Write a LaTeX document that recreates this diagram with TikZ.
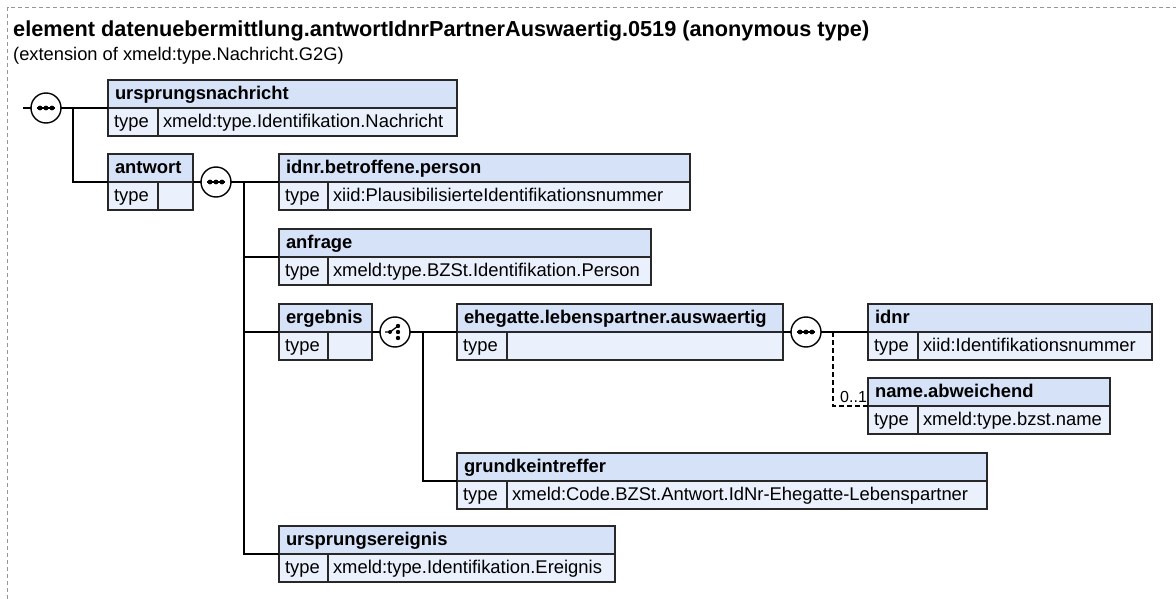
\documentclass[tikz,border=0pt]{standalone}
\usepackage{fontspec}
\setmainfont{Liberation Sans}
\definecolor{hdrblue}{RGB}{214,226,247}
\definecolor{rowblue}{RGB}{234,241,252}
\definecolor{edge}{RGB}{40,40,40}
\definecolor{frame}{RGB}{150,150,150}
\newcommand\xelem[7]{%
 \pgfmathsetmacro\wa{#4-#2-14}%
 \pgfmathsetmacro\wb{#5-#2-12}%
 \pgfmathsetmacro\wc{#4-#5-10}%
 \node[hdr, text width=\wa pt] (#1) at (#2,#3) {#6};
 \node[tyc, text width=\wb pt] (#1-t) at (#1.south west) {type};
 \node[tyv, text width=\wc pt] (#1-v) at (#1-t.north east) {#7};
}
\newcommand\seqmark[1]{%
 \draw[black, line width=1.3pt] ([xshift=-9pt]#1.center) -- ([xshift=9pt]#1.center);
 \foreach \d in {-6,0,6} \fill[black] ([xshift=\d pt]#1.center) circle (2.4pt);
}
\newcommand\chomark[1]{%
 \draw[black, line width=1.3pt] ([xshift=-10pt]#1.center) -- ([xshift=-5pt]#1.center) -- ([shift={(3pt,6pt)}]#1.center);
 \fill[black] ([xshift=-5pt]#1.center) circle (2pt);
 \foreach \d in {-6,0,6} \fill[black] ([shift={(3pt,\d pt)}]#1.center) circle (2.2pt);
}
\begin{document}
\begin{tikzpicture}[x=1pt,y=-1pt,
 box/.style={draw=edge, line width=1.4pt, anchor=north west, minimum height=28pt, outer sep=0pt,
   inner ysep=0pt, text height=19.5pt, text depth=8.5pt,
   font=\fontsize{18.4}{20}\selectfont, align=left},
 hdr/.style={box, fill=hdrblue, font=\fontsize{18.4}{20}\selectfont\bfseries, inner xsep=7pt},
 tyc/.style={box, fill=rowblue, inner xsep=6pt},
 tyv/.style={box, fill=rowblue, inner xsep=5pt},
 conn/.style={draw=black, line width=1.4pt},
 sym/.style={circle, draw=black, fill=white, line width=1.4pt, minimum size=30pt, inner sep=0pt, outer sep=0pt}
]
\useasboundingbox (0,0) rectangle (1176,599);
\draw[frame, line width=1pt, dash pattern=on 4pt off 3pt] (7.5,599) -- (7.5,7.5) -- (1176,7.5);

\node[anchor=base west, inner sep=0pt, font=\bfseries\fontsize{21.7}{24}\selectfont] (title) at (13,37)
  {element datenuebermittlung.antwortIdnrPartnerAuswaertig.0519 (anonymous type)};
\node[anchor=base west, inner sep=0pt, font=\fontsize{18.3}{20}\selectfont] (sub) at (13,61)
  {(extension of xmeld:type.Nachricht.G2G)};

\xelem{un}{108}{80}{457}{158}{ursprungsnachricht}{xmeld:type.Identifikation.Nachricht}
\xelem{aw}{108}{154}{193}{158}{antwort}{}
\xelem{ib}{279}{154}{690}{328}{idnr.betroffene.person}{xiid:PlausibilisierteIdentifikationsnummer}
\xelem{af}{279}{229}{651}{328}{anfrage}{xmeld:type.BZSt.Identifikation.Person}
\xelem{er}{279}{304}{372}{328}{ergebnis}{}
\xelem{eh}{457}{304}{783}{507}{ehegatte.lebenspartner.auswaertig}{}
\xelem{id}{868}{304}{1152}{918}{idnr}{xiid:Identifikationsnummer}
\xelem{na}{868}{378}{1110}{918}{name.abweichend}{xmeld:type.bzst.name}
\xelem{gk}{457}{453}{987}{507}{grundkeintreffer}{xmeld:Code.BZSt.Antwort.IdNr-Ehegatte-Lebenspartner}
\xelem{ue}{279}{526}{615}{328}{ursprungsereignis}{xmeld:type.Identifikation.Ereignis}

\coordinate (in) at (23,108);
\coordinate (j1) at (73,108);
\coordinate (j2) at (244,182);
\coordinate (j3) at (423,332);
\coordinate (j4) at (833,332);

\node[sym] (s1) at (46,108) {};
\node[sym] (s2) at (216,182) {};
\node[sym] (c1) at (395,332) {};
\node[sym] (s3) at (806,332) {};
\seqmark{s1}
\seqmark{s2}
\chomark{c1}
\seqmark{s3}

\draw[conn] (in) -- (s1.west);
\draw[conn] (s1.east) -- (un.south west);
\draw[conn] (j1) |- (aw.south west);
\draw[conn] (aw.south east) -- (s2.west);
\draw[conn] (s2.east) -- (ib.south west);
\draw[conn] (j2) |- (af.south west);
\draw[conn] (j2) |- (er.south west);
\draw[conn] (j2) |- (ue.south west);
\draw[conn] (er.south east) -- (c1.west);
\draw[conn] (c1.east) -- (eh.south west);
\draw[conn] (j3) |- (gk.south west);
\draw[conn] (eh.south east) -- (s3.west);
\draw[conn] (s3.east) -- (id.south west);
\draw[conn, dash pattern=on 5pt off 3pt] (j4) |- (na.south west);
\node[anchor=base west, inner sep=0pt, font=\fontsize{16}{18}\selectfont] (occ) at (840,402) {0..1};
\end{tikzpicture}
\end{document}
